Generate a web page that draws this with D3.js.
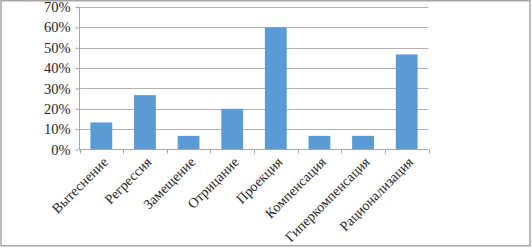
<!DOCTYPE html>
<html>
<head>
<meta charset="utf-8">
<script src="https://cdn.jsdelivr.net/npm/d3@7"></script>
<style>
  body { margin: 0; background: #fff; }
  svg { display: block; }
</style>
</head>
<body>
<svg id="chart" width="532" height="248"></svg>
<script>
var categories = ["Вытеснение", "Регрессия", "Замещение", "Отрицание", "Проекция",
  "Компенсация", "Гиперкомпенсация", "Рационализация"];
var values = [13.3, 26.7, 6.7, 20, 60, 6.7, 6.7, 46.7];
var yTicks = [0, 10, 20, 30, 40, 50, 60, 70];

(function () {
  var svg = d3.select("#chart");
  var plotLeft = 79.5, plotRight = 428.5, plotTop = 7, plotBottom = 149.5;

  svg.append("rect")
    .attr("x", 1).attr("y", 0.75)
    .attr("width", 529).attr("height", 245)
    .attr("fill", "#fff")
    .attr("stroke", "#a6a6a6")
    .attr("stroke-width", 1.5);

  var xScale = d3.scaleBand().domain(categories).range([plotLeft, plotRight])
    .paddingInner(0.5).paddingOuter(0.25);
  var yScale = d3.scaleLinear().domain([0, 70]).range([plotBottom, plotTop]);

  // gridlines
  svg.append("g").selectAll("line").data(yTicks.slice(1)).enter()
    .append("line")
    .attr("x1", plotLeft).attr("x2", plotRight)
    .attr("y1", function (d) { return Math.round(yScale(d)) + 0.5; })
    .attr("y2", function (d) { return Math.round(yScale(d)) + 0.5; })
    .attr("stroke", "#b0b0b0").attr("stroke-width", 1);

  // y axis
  var yAxis = d3.axisLeft(yScale).tickValues(yTicks).tickSize(4)
    .tickFormat(function (d) { return d + "%"; });
  var gy = svg.append("g").attr("transform", "translate(" + plotLeft + ",0)").call(yAxis);
  gy.select(".domain").attr("stroke", "#a6a6a6").attr("d", "M0," + plotTop + "V" + plotBottom);
  gy.selectAll(".tick line").attr("stroke", "#a6a6a6");
  gy.selectAll(".tick text")
    .attr("font-family", "Liberation Serif, serif")
    .attr("font-size", 14.5)
    .attr("fill", "#262626")
    .attr("x", -9);

  // bars
  svg.append("g").selectAll("rect").data(values).enter()
    .append("rect")
    .attr("x", function (d, i) { return xScale(categories[i]); })
    .attr("y", function (d) { return yScale(d); })
    .attr("width", xScale.bandwidth())
    .attr("height", function (d) { return plotBottom - yScale(d); })
    .attr("fill", "#5b9bd5");

  // x axis
  var step = (plotRight - plotLeft) / categories.length;
  var tickPos = d3.range(categories.length + 1).map(function (i) { return plotLeft + i * step; });
  var gx = svg.append("g");
  gx.append("line").attr("x1", plotLeft).attr("x2", plotRight)
    .attr("y1", plotBottom).attr("y2", plotBottom)
    .attr("stroke", "#a6a6a6");
  gx.selectAll(".xt").data(tickPos).enter().append("line")
    .attr("class", "xt")
    .attr("x1", function (d) { return Math.round(d) + 0.5; })
    .attr("x2", function (d) { return Math.round(d) + 0.5; })
    .attr("y1", plotBottom).attr("y2", plotBottom + 4)
    .attr("stroke", "#a6a6a6");

  gx.selectAll("text").data(categories).enter().append("text")
    .attr("transform", function (d) {
      var cx = xScale(d) + xScale.bandwidth() / 2 + 4;
      return "translate(" + cx + "," + (plotBottom + 10) + ") rotate(-45)";
    })
    .attr("text-anchor", "end")
    .attr("dy", "0.35em")
    .attr("font-family", "Liberation Serif, serif")
    .attr("font-size", 14)
    .attr("fill", "#262626")
    .text(function (d) { return d; });
})();
</script>
</body>
</html>
